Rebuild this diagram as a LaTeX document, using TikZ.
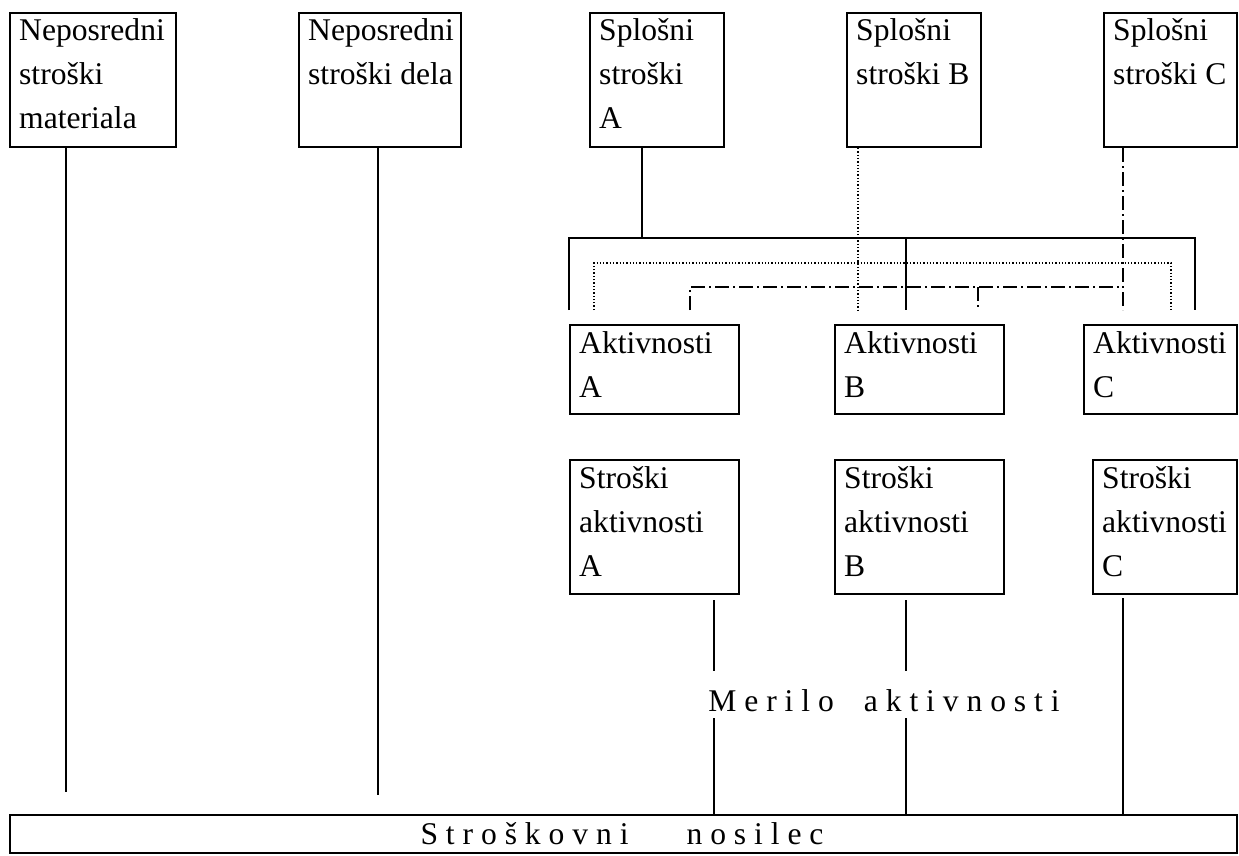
\documentclass[tikz,border=0pt]{standalone}
\usepackage{fontspec}
\setmainfont{Liberation Serif}
\usetikzlibrary{calc}

% box with its left-aligned text: name, x, y (top left), width, height, text
\newcommand\costbox[6]{%
  \node[box, minimum width=#4pt, minimum height=#5pt] (#1) at (#2,#3) {};
  \node[lbl] (#1-t) at (#2+10,#3+29) {\parbox[t]{300pt}{#6}};
}

\begin{document}
\begin{tikzpicture}[x=1pt,y=-1pt,
  box/.style={draw, line width=2pt, inner sep=0pt, anchor=north west},
  lbl/.style={anchor=base west, inner sep=0pt, font=\fontsize{31.6}{44}\selectfont},
  spaced/.style={anchor=base, inner sep=0pt, font=\fontsize{31.6}{44}\selectfont},
  solidln/.style={line width=1.3pt},
  thinln/.style={line width=1.2pt},
  dotln/.style={line width=1.3pt, dash pattern=on 1.3pt off 2pt},
  dashdotln/.style={line width=1.6pt, dash pattern=on 14pt off 4pt on 2pt off 4pt},
]
\useasboundingbox (0,0) rectangle (1239,856);

% top row
\costbox{nm}{9}{12}{166}{134}{Neposredni\\stroški\\materiala}
\costbox{nd}{298}{12}{162}{134}{Neposredni\\stroški dela}
\costbox{sa}{589}{12}{134}{134}{Splošni\\stroški\\A}
\costbox{sb}{846}{12}{134}{134}{Splošni\\stroški B}
\costbox{sc}{1103}{12}{133}{134}{Splošni\\stroški C}

% activities
\costbox{aa}{569}{324}{169}{89}{Aktivnosti\\A}
\costbox{ab}{834}{324}{169}{89}{Aktivnosti\\B}
\costbox{ac}{1083}{324}{153}{89}{Aktivnosti\\C}

% activity costs
\costbox{ka}{569}{459}{169}{134}{Stroški\\aktivnosti\\A}
\costbox{kb}{834}{459}{169}{134}{Stroški\\aktivnosti\\B}
\costbox{kc}{1092}{459}{144}{134}{Stroški\\aktivnosti\\C}

% cost carrier
\node[box, minimum width=1227pt, minimum height=38pt] (sn) at (9,814) {};
\node[spaced] (sn-t) at (622,844) {S t r o š k o v n i\hspace{58pt}n o s i l e c};

% activity driver label
\node[spaced] (ma) at (884,711) {M e r i l o\hspace{30pt}a k t i v n o s t i};

% junction points of the allocation lines
\coordinate (ja) at (642,238);
\coordinate (jl) at (569,238);
\coordinate (jm) at (906,238);
\coordinate (jr) at (1195,238);
\coordinate (dl) at (594,263);
\coordinate (dr) at (1171,263);
\coordinate (db) at (858,310);
\coordinate (cl) at (690,287);
\coordinate (cm) at (978,287);
\coordinate (cr) at (1123,287);
\coordinate (cc) at (1123,310);
\coordinate (e) at (0,310);

% overhead A, solid
\draw[solidln] (sa.south -| ja) -- (ja);
\draw[solidln] (jl |- e) -- (jl) -- (jr) -- (jr |- e);
\draw[solidln] (jm) -- (jm |- e);

% overhead B, dotted
\draw[dotln] (sb.south -| db) -- (db);
\draw[dotln] (dl |- e) -- (dl) -- (dr) -- (dr |- e);

% overhead C, dash-dot
\draw[dashdotln] (sc.south -| cc) -- (cc);
\draw[dashdotln] (cl |- e) -- (cl) -- (cr);
\draw[dashdotln] (cm) -- (cm |- e);

% direct costs
\coordinate (l1) at (66,792);
\coordinate (l2) at (378,795);
\draw[thinln] (nm.south -| l1) -- (l1);
\draw[thinln] (nd.south -| l2) -- (l2);

% activity costs through the driver to the carrier
\coordinate (ma1) at (714,671);
\coordinate (mb1) at (906,671);
\coordinate (ma2) at (714,718);
\coordinate (mb2) at (906,718);
\coordinate (mc) at (1123,598);
\draw[thinln] ([yshift=-5pt]ka.south -| ma1) -- (ma1);
\draw[thinln] ([yshift=-5pt]kb.south -| mb1) -- (mb1);
\draw[thinln] (ma2) -- (ma2 |- sn.north);
\draw[thinln] (mb2) -- (mb2 |- sn.north);
\draw[thinln] (mc) -- (mc |- sn.north);
\end{tikzpicture}
\end{document}
